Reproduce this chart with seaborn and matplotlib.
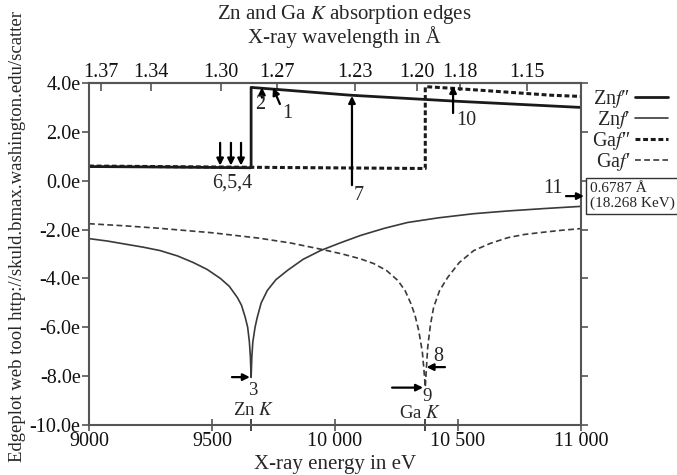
import numpy as np
import pandas as pd
import matplotlib
matplotlib.use("Agg")
import matplotlib.pyplot as plt
from matplotlib.lines import Line2D
import seaborn as sns

# ---------------- data ----------------
zn_fpp_E = [9000, 9300, 9659, 9659, 10063, 10500, 11000]
zn_fpp_v = [0.58, 0.56, 0.53, 3.82, 3.50, 3.25, 3.00]

ga_fpp_E = [9000, 9659, 10367, 10367, 10483, 10878, 11000]
ga_fpp_v = [0.60, 0.55, 0.50, 3.85, 3.78, 3.50, 3.45]

zn_fp_E = [9000, 9075, 9150, 9220, 9289, 9360, 9424, 9480, 9534, 9570, 9603, 9620, 9635,
           9645, 9652, 9656, 9659, 9662, 9666, 9675, 9684, 9700, 9725, 9760, 9807, 9870,
           9941, 10020, 10104, 10200, 10295, 10420, 10564, 10700, 10850, 11000]
zn_fp_v = [-2.37, -2.47, -2.60, -2.72, -2.86, -3.08, -3.35, -3.63, -4.00, -4.32, -4.78,
           -5.10, -5.59, -6.00, -6.60, -7.20, -8.05, -7.20, -6.60, -6.00, -5.59, -5.00,
           -4.49, -4.05, -3.67, -3.22, -2.86, -2.55, -2.24, -1.95, -1.71, -1.52, -1.35,
           -1.24, -1.14, -1.05]

ga_fp_E = [9000, 9150, 9289, 9500, 9690, 9820, 9941, 10030, 10104, 10157, 10210, 10255,
           10285, 10308, 10325, 10340, 10355, 10362, 10367, 10372, 10377, 10388, 10401,
           10425, 10458, 10505, 10564, 10630, 10703, 10770, 10837, 10920, 11000]
ga_fp_v = [-1.76, -1.85, -1.95, -2.13, -2.35, -2.55, -2.80, -3.00, -3.20, -3.39, -3.68,
           -4.08, -4.50, -5.02, -5.50, -6.12, -7.00, -7.80, -8.45, -7.60, -6.80, -5.90,
           -5.18, -4.50, -3.96, -3.35, -2.86, -2.57, -2.33, -2.20, -2.12, -2.03, -1.96]

series_labels = ["Zn$f$\u2033", "Zn$f$\u2032", "Ga$f$\u2033", "Ga$f$\u2032"]

xtick_vals = [9000, 9500, 10000, 10500, 11000]
xtick_labels = ["9000", "9500", "10 000", "10 500", "11 000"]
edge_ticks = [9659, 10367]
ytick_vals = [4, 2, 0, -2, -4, -6, -8, -10]
ytick_labels = ["4.0e", "2.0e", "0.0e", "-2.0e", "-4.0e", "-6.0e", "-8.0e", "-10.0e"]
top_ticks = [1.37, 1.34, 1.30, 1.27, 1.23, 1.20, 1.18, 1.15]

# ---------------- style ----------------
sns.set_style("ticks")
plt.rcParams["font.family"] = ["Liberation Serif", "DejaVu Serif"]
plt.rcParams["mathtext.fontset"] = "stix"

FS = 14.5

fig = plt.figure(figsize=(6.77, 4.75), dpi=100)
W, H = 677, 475
ax = fig.add_axes([89 / W, 1 - 425 / H, (581 - 89) / W, (425 - 83) / H])

dark = "#1a1a1a"
mid = "#3a3a3a"
dash_thick = (1.6, 0.9)
dash_thin = (3.5, 2.0)

def draw(E, v, lw, color, dashes=None):
    sns.lineplot(x=E, y=v, ax=ax, estimator=None, sort=False, color=color,
                 linewidth=lw, legend=False)
    ln = ax.lines[-1]
    if dashes is not None:
        ln.set_dashes(dashes)
    return ln

l1 = draw(zn_fpp_E, zn_fpp_v, 2.0, dark)
l2 = draw(zn_fp_E, zn_fp_v, 1.2, mid)
l3 = draw(ga_fpp_E, ga_fpp_v, 2.2, dark, dash_thick)
l4 = draw(ga_fp_E, ga_fp_v, 1.2, mid, dash_thin)

ax.set_xlim(9000, 11000)
ax.set_ylim(-10, 4)
ax.set_xticks(xtick_vals)
ax.set_xticklabels(xtick_labels)
ax.set_xticks(edge_ticks, minor=True)
ax.set_yticks(ytick_vals)
ax.set_yticklabels(ytick_labels)
ax.set_xlabel("")
ax.set_ylabel("")

spine_c = "#555555"
for s in ax.spines.values():
    s.set_visible(True)
    s.set_color(spine_c)
    s.set_linewidth(1.5)

ax.tick_params(axis="both", labelsize=FS, color=spine_c, labelcolor="#111111")
ax.tick_params(axis="y", which="major", direction="out", length=5, width=1.2,
               right=True, pad=1)
ax.tick_params(axis="x", which="both", direction="inout", length=8, width=1.2, pad=1)

# top wavelength axis
sec = ax.secondary_xaxis("top", functions=(lambda e: 12398.42 / np.asarray(e, float),
                                             lambda l: 12398.42 / np.asarray(l, float)))
sec.set_xticks(top_ticks)
sec.set_xticklabels([f"{t:.2f}" for t in top_ticks])
sec.tick_params(direction="in", length=6, width=1.2, labelsize=FS, color=spine_c,
                pad=1, labelcolor="#111111")
sec.spines["top"].set_color(spine_c)
sec.spines["top"].set_linewidth(1.5)

# titles / labels
fig.text(344 / W, 1 - 15 / H, "Zn and Ga $K$ absorption edges", ha="center", va="center",
         fontsize=FS + 0.5)
fig.text(344 / W, 1 - 37 / H, "X-ray wavelength in Å", ha="center", va="center",
         fontsize=FS + 0.5)
fig.text(335 / W, 1 - 464 / H, "X-ray energy in eV", ha="center", va="center",
         fontsize=FS + 0.5)
fig.text(18 / W, 1 - 237 / H, "Edgeplot web tool http://skuld.bmax.washington.edu/scatter",
         ha="center", va="center", rotation=90, fontsize=13.5)

# annotations
ap = dict(arrowstyle="-|>", color="black", lw=1.6, mutation_scale=10, shrinkA=0, shrinkB=0)
def arrow(x0, y0, x1, y1):
    ax.annotate("", xy=(x1, y1), xytext=(x0, y0), arrowprops=ap, annotation_clip=False)

def label(x, y, s, fs=FS):
    ax.text(x, y, s, ha="center", va="center", fontsize=fs, clip_on=False)

arrow(9776, 3.14, 9748, 3.80); label(9805, 2.75, "1")
arrow(9703, 3.40, 9703, 3.82); label(9695, 3.12, "2")
arrow(9581, -8.04, 9654, -8.04); label(9667, -8.58, "3", 13.5); label(9667, -9.40, "Zn $K$", 13.5)
for e in [9533, 9577, 9618]:
    arrow(e, 1.55, e, 0.62)
label(9581, -0.08, "6,5,4")
arrow(10069, -0.18, 10069, 3.47); label(10097, -0.62, "7")
arrow(10447, -7.63, 10372, -7.63); label(10419, -7.20, "8")
arrow(10232, -8.47, 10358, -8.47); label(10374, -8.84, "9", 13.5); label(10346, -9.52, "Ga $K$", 13.5)
arrow(10480, 2.77, 10480, 3.88); label(10532, 2.45, "10")
arrow(10939, -0.63, 11012, -0.63); label(10885, -0.30, "11")

fig.text(590 / W, 1 - 196 / H, "0.6787 Å\n(18.268 KeV)", ha="left", va="center",
         fontsize=11, linespacing=1.15,
         bbox=dict(boxstyle="square,pad=0.25", fc="white", ec="#333333", lw=1.0))

# legend
handles = []
for l in (l1, l2, l3, l4):
    handles.append(Line2D([], [], color=l.get_color(), lw=l.get_linewidth()))
handles[2].set_dashes(dash_thick)
handles[3].set_dashes(dash_thin)
fig.legend(handles, series_labels, loc="upper left", bbox_to_anchor=(580 / W, 1 - 76 / H),
           frameon=False, markerfirst=False, fontsize=FS, handlelength=1.6,
           handletextpad=0.25, labelspacing=-0.05, borderpad=0.1)

fig.savefig("out.png", dpi=100)
